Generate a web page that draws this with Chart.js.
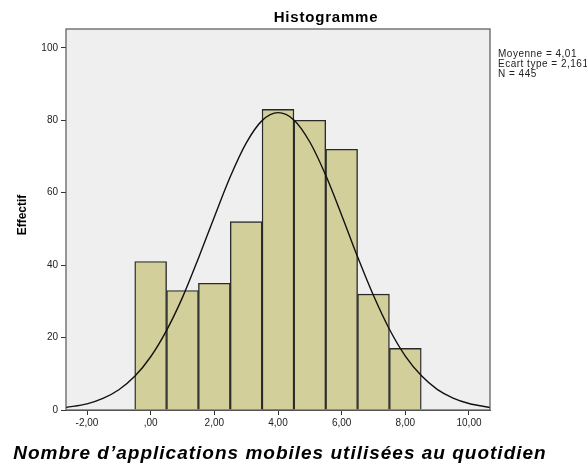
<!DOCTYPE html>
<html>
<head>
<meta charset="utf-8">
<script src="https://cdn.jsdelivr.net/npm/chart.js@4.4.1/dist/chart.umd.min.js"></script>
<style>
  html, body { margin: 0; padding: 0; background: #fff; }
  #wrap { width: 587px; height: 465px; }
</style>
</head>
<body>
<div id="wrap"><canvas id="histo"></canvas></div>
<script>
// classes (centre de chaque barre) et effectifs
const classes = [0, 1, 2, 3, 4, 5, 6, 7, 8];
const effectifs = [41, 33, 35, 52, 83, 80, 72, 32, 17];

// courbe normale
const courbeX = [-2.66, -2, -1.5, -1, -0.5, 0, 0.5, 1, 1.5, 2, 2.5, 3, 3.5, 4, 4.5, 5, 5.5, 6, 6.5, 7, 7.5, 8, 8.5, 9, 9.5, 10, 10.66];
const courbeY = [0.7, 1.7, 3.2, 5.6, 9.3, 14.7, 22.0, 31.1, 41.9, 53.3, 64.4, 73.7, 79.9, 82.1, 80.1, 74.0, 64.8, 53.8, 42.3, 31.6, 22.3, 14.9, 9.5, 5.7, 3.3, 1.8, 0.7];

const xTicks = [-2, 0, 2, 4, 6, 8, 10];
const xTickLabels = ['-2,00', ',00', '2,00', '4,00', '6,00', '8,00', '10,00'];
const yTicks = [0, 20, 40, 60, 80, 100];

const stats = ['Moyenne = 4,01', 'Ecart type = 2,161', 'N = 445'];

const police = '"Liberation Sans", Arial, sans-serif';

// fond gris, cadre et textes
const decor = {
    id: 'decor',
    beforeDatasetsDraw(chart) {
        const { ctx, chartArea: a } = chart;
        ctx.save();
        ctx.fillStyle = '#efefef';
        ctx.fillRect(a.left, a.top, a.right - a.left, a.bottom - a.top);
        ctx.restore();
    },
    afterDraw(chart) {
        const { ctx, chartArea: a } = chart;
        ctx.save();
        ctx.strokeStyle = '#555';
        ctx.lineWidth = 1.2;
        ctx.strokeRect(a.left, a.top, a.right - a.left, a.bottom - a.top);

        ctx.fillStyle = '#000';
        ctx.font = 'bold 15px ' + police;
        ctx.letterSpacing = '0.8px';
        ctx.textAlign = 'center';
        ctx.textBaseline = 'alphabetic';
        ctx.fillText('Histogramme', 326, 22);

        ctx.font = 'bold italic 19px ' + police;
        ctx.letterSpacing = '1px';
        ctx.fillText('Nombre d\u2019applications mobiles utilisées au quotidien', 280, 459);

        ctx.font = '10px ' + police;
        ctx.letterSpacing = '0.5px';
        ctx.textAlign = 'left';
        ctx.fillStyle = '#222';
        stats.forEach((t, i) => ctx.fillText(t, 498, 57 + i * 10));

        ctx.translate(26, 215);
        ctx.rotate(-Math.PI / 2);
        ctx.textAlign = 'center';
        ctx.fillStyle = '#000';
        ctx.font = 'bold 12px ' + police;
        ctx.letterSpacing = '0px';
        ctx.fillText('Effectif', 0, 0);
        ctx.restore();
    }
};

new Chart(document.getElementById('histo'), {
    type: 'bar',
    data: {
        datasets: [
            {
                type: 'line',
                data: courbeX.map((x, i) => ({ x: x, y: courbeY[i] })),
                borderColor: '#111',
                borderWidth: 1.4,
                pointRadius: 0,
                cubicInterpolationMode: 'monotone',
                fill: false
            },
            {
                data: classes.map((c, i) => ({ x: c, y: effectifs[i] })),
                backgroundColor: '#d3cf9b',
                borderColor: '#2a2a2a',
                borderWidth: 1.4,
                barPercentage: 1,
                categoryPercentage: 1
            }
        ]
    },
    options: {
        responsive: true,
        maintainAspectRatio: false,
        animation: false,
        layout: { padding: { top: 29, right: 97, left: 0, bottom: 0 } },
        plugins: { legend: { display: false }, tooltip: { enabled: false } },
        scales: {
            x: {
                type: 'linear',
                min: -2.66,
                max: 10.66,
                offset: false,
                afterBuildTicks: s => { s.ticks = xTicks.map(v => ({ value: v })); },
                afterFit: s => { s.height = 55; },
                grid: { offset: false, drawOnChartArea: false, tickLength: 5, color: '#333' },
                border: { color: '#555' },
                ticks: {
                    padding: 2,
                    maxRotation: 0,
                    color: '#222',
                    font: { family: police, size: 10 },
                    callback: (v, i) => xTickLabels[i]
                }
            },
            y: {
                min: 0,
                max: 105.2,
                afterBuildTicks: s => { s.ticks = yTicks.map(v => ({ value: v })); },
                afterFit: s => { s.width = 66; },
                grid: { drawOnChartArea: false, tickLength: 5, color: '#333' },
                border: { color: '#555' },
                ticks: {
                    padding: 3,
                    color: '#222',
                    font: { family: police, size: 10 }
                }
            }
        }
    },
    plugins: [decor]
});
</script>
</body>
</html>
